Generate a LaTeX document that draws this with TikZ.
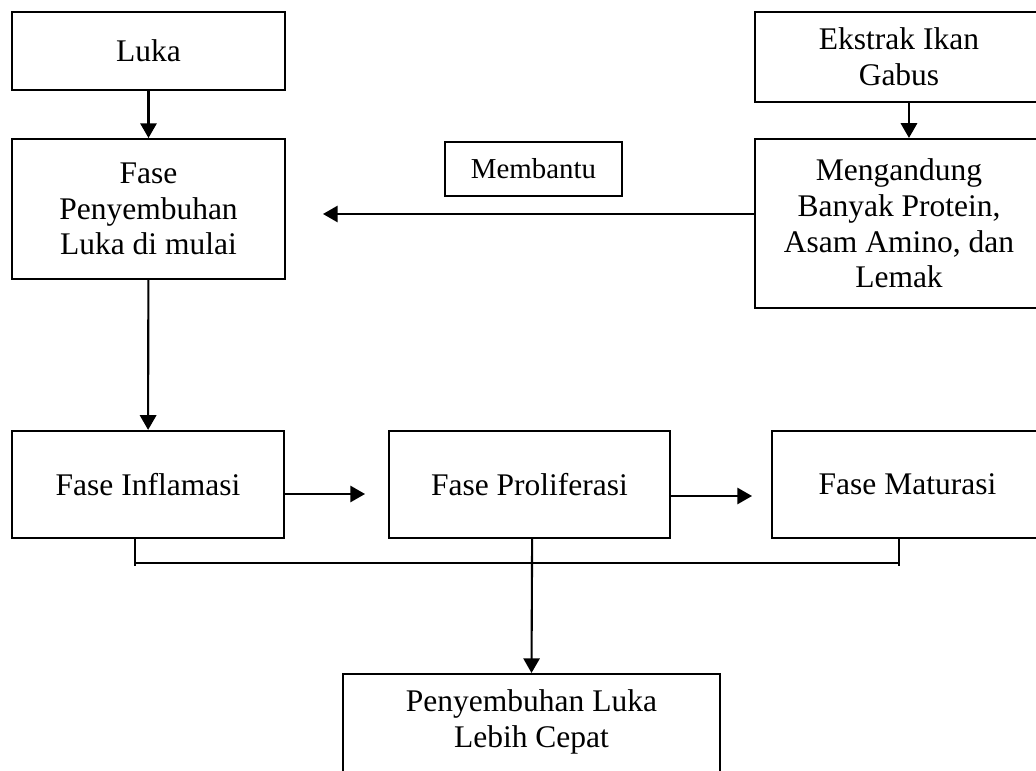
\documentclass[tikz,border=0pt]{standalone}
\usepackage{fontspec}
\setmainfont{Liberation Serif}
\usetikzlibrary{%
  arrows.meta,
  positioning,
}

\begin{document}
\begin{tikzpicture}[
    x = 0.381pt, y = -0.381pt,
    kotak/.style = {
      draw, line width = 0.8pt,
      align = center, inner sep = 0pt,
      font = \fontsize{12}{13.6}\selectfont,
    },
    panah/.style = {
      line width = 0.8pt,
      -{Triangle[length = 5.6pt, width = 6.2pt]},
    },
  ]
  \useasboundingbox (0,0) rectangle (1036,771);

  % kolom kiri
  \node[kotak, minimum width = 104pt, minimum height = 29.7pt]
    (luka) at (148.5,51) {Luka};
  \node[kotak, minimum width = 104pt, minimum height = 53.3pt]
    (fase) at (148.5,209) {Fase\\Penyembuhan\\Luka di mulai};

  % kolom kanan
  \node[kotak, minimum width = 109.7pt, minimum height = 34.3pt]
    (ekstrak) at (899,57) {Ekstrak Ikan\\Gabus};
  \node[kotak, minimum width = 109.7pt, minimum height = 64.4pt]
    (kandungan) at (899,223.5)
    {Mengandung\\Banyak Protein,\\Asam Amino, dan\\Lemak};
  \node[kotak, minimum width = 67.4pt, minimum height = 20.6pt,
        font = \fontsize{11}{12.6}\selectfont]
    (membantu) at (533.5,169) {Membantu};

  % baris fase
  \node[kotak, minimum width = 103.6pt, minimum height = 40.8pt]
    (inflamasi) at (148,484.5) {Fase Inflamasi};
  \node[kotak, minimum width = 107.1pt, minimum height = 40.8pt]
    (proliferasi) at (529.5,484.5) {Fase Proliferasi};
  \node[kotak, minimum width = 103.3pt, minimum height = 40.8pt]
    (maturasi) at (907.5,484.5) {Fase Maturasi};

  % hasil akhir
  \node[kotak, anchor = north, minimum width = 143.6pt, inner ysep = 6pt]
    (hasil) at (531.5,673) {Penyembuhan Luka\\Lebih Cepat\\ \mbox{}};

  \coordinate (ujung1) at (323,214);
  \coordinate (ujung2) at (365,494);
  \coordinate (ujung3) at (752,496);
  \coordinate (kiri) at (135,563);
  \coordinate (kanan) at (899,563);

  \draw[panah] (luka) -- (fase);
  \draw[panah] (fase) -- (inflamasi);
  \draw[panah] ([xshift = 3.8pt]ekstrak.south) -- ([xshift = 3.8pt]kandungan.north);
  \draw[panah] (ujung1 -| kandungan.west) -- (ujung1);
  \draw[panah] (ujung2 -| inflamasi.east) -- (ujung2);
  \draw[panah] (ujung3 -| proliferasi.east) -- (ujung3);

  \begin{scope}[line width = 0.8pt]
    \draw (kiri |- inflamasi.south) -- ([yshift = -1.2pt]kiri);
    \draw (kanan |- maturasi.south) -- ([yshift = -1.2pt]kanan);
    \draw (kiri) -- (kanan);
  \end{scope}
  \draw[panah] ([xshift = 1pt]proliferasi.south) -- (hasil.north);
\end{tikzpicture}
\end{document}
